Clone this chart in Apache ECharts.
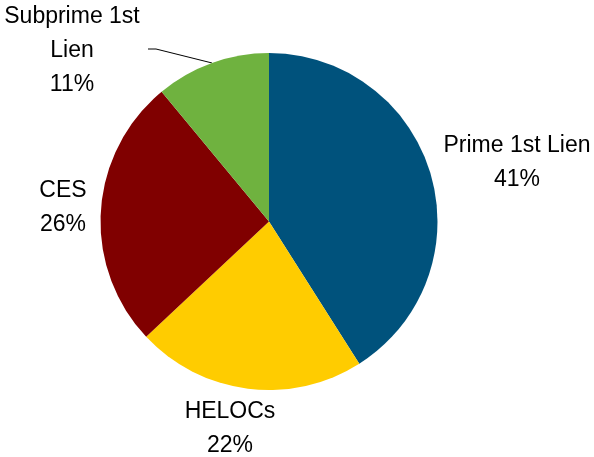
<!DOCTYPE html>
<html>
<head>
<meta charset="utf-8">
<script src="https://cdn.jsdelivr.net/npm/echarts@6/dist/echarts.min.js"></script>
<style>
  html, body { margin: 0; padding: 0; background: #fff; }
  #chart { width: 594px; height: 457px; }
</style>
</head>
<body>
<div id="chart"></div>
<script>
// Portfolio composition by loan type
const categories = ['Prime 1st Lien', 'HELOCs', 'CES', 'Subprime 1st\nLien'];
const shares = [41, 22, 26, 11];
const colors = ['#00527C', '#FFCC00', '#800000', '#6FB23F'];

// Where each label block sits (centre of text)
const labelSpots = [
  { x: 517, y: 163 },
  { x: 230, y: 429 },
  { x: 63, y: 208 },
  { x: 72, y: 51 }
];

const chart = echarts.init(document.getElementById('chart'), null, { renderer: 'canvas' });

const data = categories.map((name, i) => ({
  name,
  value: shares[i],
  itemStyle: { color: colors[i] },
  labelLine: { show: i === 3, lineStyle: { color: '#000', width: 1 } }
}));

chart.setOption({
  animation: false,
  backgroundColor: '#fff',
  series: [{
    type: 'pie',
    center: [269, 221.5],
    radius: [0, 168.5],
    startAngle: 90,
    clockwise: true,
    avoidLabelOverlap: false,
    itemStyle: { borderWidth: 0 },
    label: {
      show: true,
      position: 'outside',
      formatter: p => p.name + '\n' + p.value + '%',
      fontFamily: '"Liberation Sans", Arial, sans-serif',
      fontSize: 23,
      lineHeight: 34,
      color: '#000',
      align: 'center'
    },
    labelLine: { show: false, length: 10, length2: 10 },
    labelLayout: function (params) {
      const s = labelSpots[params.dataIndex];
      const out = { x: s.x, y: s.y, align: 'center', verticalAlign: 'middle' };
      if (params.dataIndex === 3 && params.labelLinePoints) {
        const a = params.labelLinePoints[0];
        out.labelLinePoints = [a, [s.x + 84, s.y - 2], [s.x + 76, s.y - 2]];
      }
      return out;
    },
    data
  }]
});
</script>
</body>
</html>
